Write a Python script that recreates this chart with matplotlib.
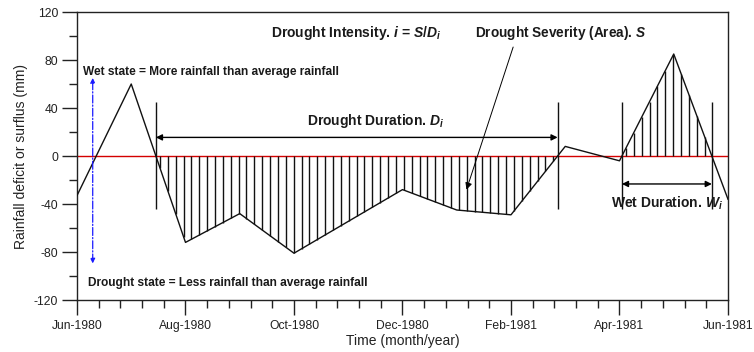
import numpy as np
import matplotlib
matplotlib.use("Agg")
import matplotlib.pyplot as plt
from matplotlib.ticker import MultipleLocator, FixedLocator, FixedFormatter

plt.rcParams['font.family'] = ['Liberation Sans', 'DejaVu Sans']
plt.rcParams['axes.unicode_minus'] = False
plt.rcParams['mathtext.fontset'] = 'custom'
plt.rcParams['mathtext.rm'] = 'Liberation Sans:bold'
plt.rcParams['mathtext.it'] = 'Liberation Sans:italic:bold'
plt.rcParams['mathtext.bf'] = 'Liberation Sans:bold'

# monthly rainfall anomaly (months counted from Jun-1980)
months = [0, 1, 2, 3, 4, 6, 7, 8, 9, 10, 11, 12]
deficit = [-33, 60, -72, -48, -81, -28, -45, -49, 8, -4, 85, -36]

tick_months = [0, 2, 4, 6, 8, 10, 12]
tick_labels = ["Jun-1980", "Aug-1980", "Oct-1980", "Dec-1980",
               "Feb-1981", "Apr-1981", "Jun-1981"]

x = np.array(months, dtype=float)
y = np.array(deficit, dtype=float)

# zero crossings of the anomaly series
cross = []
for i in range(len(x) - 1):
    if y[i] * y[i + 1] < 0:
        cross.append(x[i] - y[i] * (x[i + 1] - x[i]) / (y[i + 1] - y[i]))
drought = (cross[1], cross[2])
wet = (cross[4], cross[5])

fig = plt.figure(figsize=(7.54, 3.52), dpi=100)
ax = fig.add_axes([0.1021, 0.1477, 0.8634, 0.8182])

ax.axhline(0, color="#d40000", lw=1.0, zorder=1)
ax.plot(x, y, color="#111111", lw=1.0, zorder=3)

# vertical hatching inside each event
step = 0.145
for a, b in (drought, wet):
    xs = np.arange(a + 0.075, b, step)
    ax.vlines(xs, 0, np.interp(xs, x, y), color="#111111", lw=1.0, zorder=2)
    ax.vlines([a, b], -44, 45, color="#111111", lw=1.0, zorder=3)

# duration arrows
ax.annotate("", xy=(drought[0], 15.5), xytext=(drought[1], 15.5),
            arrowprops=dict(arrowstyle="<|-|>", color="black", lw=1.0,
                            mutation_scale=9, shrinkA=0, shrinkB=0))
ax.annotate("", xy=(wet[0], -23.3), xytext=(wet[1], -23.3),
            arrowprops=dict(arrowstyle="<|-|>", color="black", lw=1.0,
                            mutation_scale=9, shrinkA=0, shrinkB=0))

# wet / drought state indicator
ax.annotate("", xy=(0.29, 65), xytext=(0.29, -89.5),
            arrowprops=dict(arrowstyle="<|-|>", color="#1a1aff", lw=0.9,
                            linestyle="-.", mutation_scale=7,
                            shrinkA=0, shrinkB=0))

# severity pointer
ax.annotate("", xy=(7.18, -28), xytext=(8.04, 90.8),
            arrowprops=dict(arrowstyle="-|>", color="black", lw=0.7,
                            mutation_scale=10, shrinkA=0, shrinkB=0))

bold = dict(fontweight="bold", color="#1a1a1a")
ax.text(0.11, 70, "Wet state = More rainfall than average rainfall",
        fontsize=8.6, ha="left", va="center", **bold)
ax.text(0.2, -105.6, "Drought state = Less rainfall than average rainfall",
        fontsize=8.6, ha="left", va="center", **bold)
ax.text(5.15, 102.5, r"Drought Intensity. $i$ = $S/D_i$",
        fontsize=10, ha="center", va="center", **bold)
ax.text(8.92, 102.5, r"Drought Severity (Area). $S$",
        fontsize=9.8, ha="center", va="center", **bold)
ax.text(5.5, 29, r"Drought Duration. $D_i$",
        fontsize=10, ha="center", va="center", **bold)
ax.text(10.88, -39, r"Wet Duration. $W_i$",
        fontsize=10, ha="center", va="center", **bold)

ax.set_xlim(0, 12)
ax.set_ylim(-120, 120)
ax.xaxis.set_major_locator(FixedLocator(tick_months))
ax.xaxis.set_major_formatter(FixedFormatter(tick_labels))
ax.xaxis.set_minor_locator(MultipleLocator(0.4))
ax.yaxis.set_major_locator(MultipleLocator(40))
ax.yaxis.set_minor_locator(MultipleLocator(20))
ax.tick_params(which="major", length=10.5, width=1.0, labelsize=8.7,
               colors="#222222", pad=3)
ax.tick_params(which="minor", length=5.5, width=1.0, colors="#222222")
ax.tick_params(axis="x", which="major", pad=4)
for s in ax.spines.values():
    s.set_linewidth(1.0)
    s.set_color("#222222")

ax.set_xlabel("Time (month/year)", fontsize=10, color="#222222", labelpad=1)
ax.set_ylabel("Rainfall deficit or surflus (mm)", fontsize=10,
              color="#222222", labelpad=4)

fig.savefig("out.png", dpi=100)
